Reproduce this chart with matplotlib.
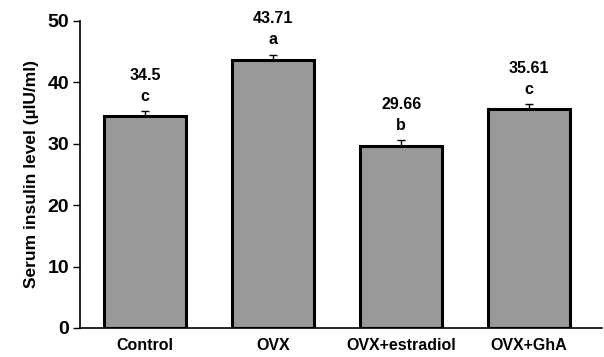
import matplotlib.pyplot as plt

groups = ["Control", "OVX", "OVX+estradiol", "OVX+GhA"]
means = [34.5, 43.71, 29.66, 35.61]
errors = [0.8, 0.8, 0.9, 0.8]
letters = ["c", "a", "b", "c"]
value_labels = ["34.5", "43.71", "29.66", "35.61"]

plt.rcParams["font.family"] = ["Liberation Sans", "DejaVu Sans"]
plt.rcParams["font.weight"] = "bold"

fig = plt.figure(figsize=(6.04, 3.57), dpi=100)
ax = fig.add_axes([80 / 604, 29 / 357, 522 / 604, 307 / 357])

x = range(len(groups))
ax.bar(x, means, width=0.64, color="#999999", edgecolor="black", linewidth=2.2, zorder=2)
ax.errorbar(x, means, yerr=[[0] * len(errors), errors], fmt="none",
            ecolor="black", elinewidth=1, capsize=3, capthick=1, zorder=3)

for i, (m, e) in enumerate(zip(means, errors)):
    ax.text(i, m + e + 1.2, letters[i], ha="center", va="bottom",
            fontsize=11.5, fontweight="bold")
    ax.text(i, m + e + 4.6, value_labels[i], ha="center", va="bottom",
            fontsize=11.5, fontweight="bold")

ax.set_ylim(0, 50)
ax.set_xlim(-0.51, 3.57)
ax.set_yticks([0, 10, 20, 30, 40, 50])
ax.set_xticks(list(x))
ax.set_xticklabels(groups, fontsize=11.5, fontweight="bold")
ax.tick_params(axis="x", length=0, pad=7)
ax.tick_params(axis="y", labelsize=14, length=5, width=1, direction="out", pad=3)
for lbl in ax.get_yticklabels():
    lbl.set_fontweight("bold")
ax.set_ylabel("Serum insulin level (µIU/ml)", fontsize=12.5, fontweight="bold", labelpad=6)

ax.spines["top"].set_visible(False)
ax.spines["right"].set_visible(False)
ax.spines["left"].set_linewidth(1.2)
ax.spines["bottom"].set_linewidth(1.2)

fig.savefig("out.png", dpi=100)
